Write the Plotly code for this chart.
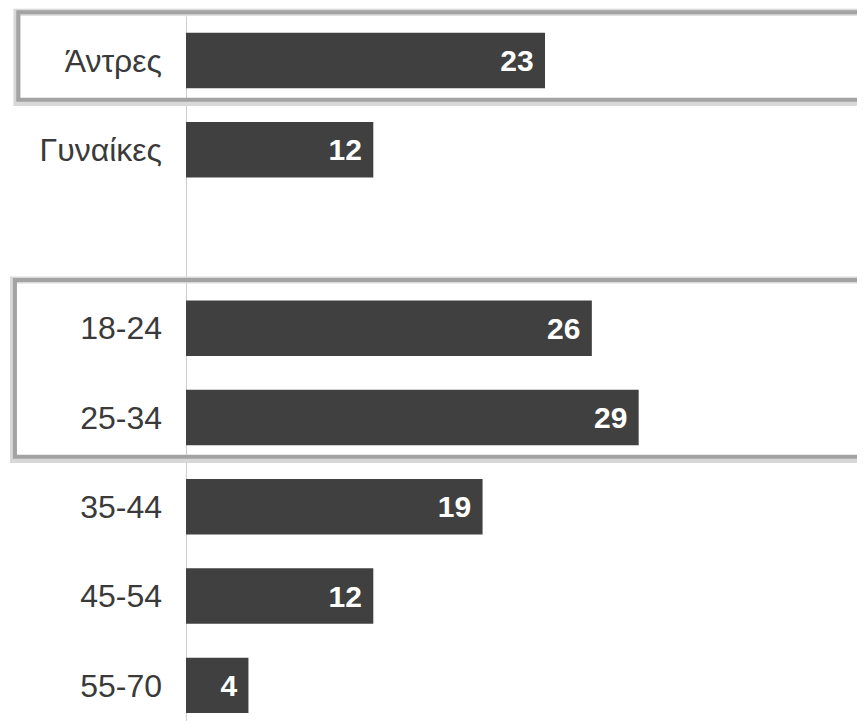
import plotly.graph_objects as go

# Data
categories = ["Άντρες", "Γυναίκες", "18-24", "25-34", "35-44", "45-54", "55-70"]
values = [23, 12, 26, 29, 19, 12, 4]
# order of rows on the axis, with an empty spacer row between groups
row_order = ["Άντρες", "Γυναίκες", " ", "18-24", "25-34", "35-44", "45-54", "55-70"]
boxed_groups = [["Άντρες"], ["18-24", "25-34"]]

BAR = "#404040"
FONT = "Liberation Sans, Arial, sans-serif"

fig = go.Figure()
fig.add_trace(go.Bar(
    x=values,
    y=categories,
    orientation="h",
    marker=dict(color=BAR, line=dict(width=0)),
    width=0.62,
    text=[f"{v}\u00a0" for v in values],
    textposition="inside",
    insidetextanchor="end",
    constraintext="none",
    textfont=dict(family=FONT, size=30, color="white", weight=700),
    hoverinfo="skip",
))

# vertical axis line (starts at top of first box)
fig.add_shape(type="line", xref="x", yref="paper", x0=0, x1=0, y0=0, y1=0.988,
              line=dict(color="#9c9c9c", width=1), layer="below")

# Highlight boxes around grouped rows
for grp in boxed_groups:
    i0 = row_order.index(grp[0])
    i1 = row_order.index(grp[-1])
    x0 = -0.247 if len(grp) == 1 else -0.252
    # soft shadow
    fig.add_shape(type="rect", xref="paper", yref="y",
                  x0=x0 - 0.002, x1=0.995, y0=i0 - 0.54, y1=i1 + 0.47,
                  line=dict(color="#d8d8d8", width=7), layer="below")
    fig.add_shape(type="rect", xref="paper", yref="y",
                  x0=x0, x1=0.993, y0=i0 - 0.54, y1=i1 + 0.44,
                  line=dict(color="#a3a3a3", width=4), layer="above")

fig.update_layout(
    width=857, height=713,
    margin=dict(l=178, r=0, t=0, b=0),
    paper_bgcolor="white", plot_bgcolor="white",
    showlegend=False,
    bargap=0.38,
    xaxis=dict(range=[0, 43.5], visible=False, showgrid=False, zeroline=False),
    yaxis=dict(
        type="category",
        categoryorder="array",
        categoryarray=row_order,
        range=[7.40, -0.588],
        showgrid=False, zeroline=False,
        showline=False,
        ticks="", ticklabelstandoff=23,
        tickfont=dict(family=FONT, size=32, color="#3a3a3a"),
    ),
)

fig.write_html("out.html")
